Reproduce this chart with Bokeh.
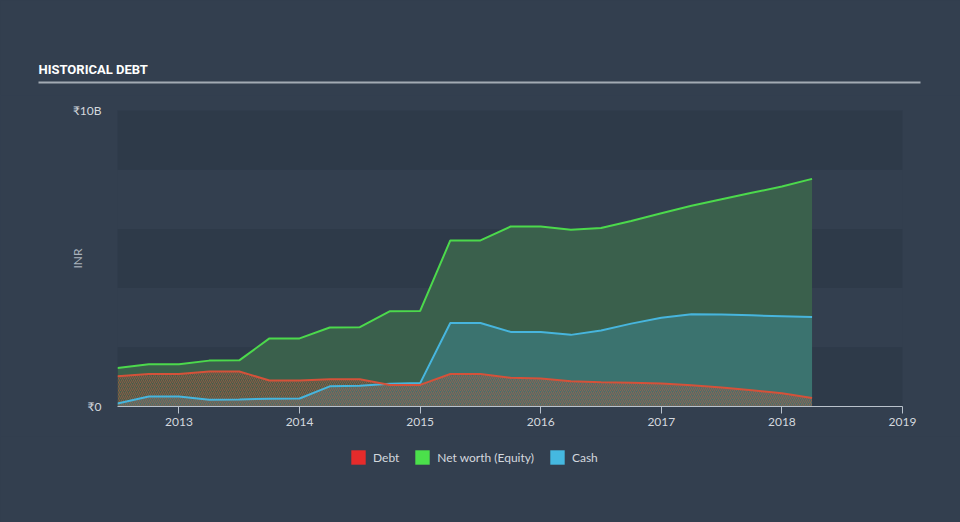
from bokeh.plotting import figure
from bokeh.layouts import column
from bokeh.models import (FixedTicker, Label, BoxAnnotation, Legend, LegendItem,
                          ColumnDataSource, Range1d)
from bokeh.embed import file_html
from bokeh.resources import INLINE

# ---- data (values in billions INR) ----
quarters = [2012.49, 2012.75, 2013.0, 2013.25, 2013.5, 2013.75, 2014.0, 2014.25,
            2014.5, 2014.75, 2015.0, 2015.25, 2015.5, 2015.75, 2016.0, 2016.25,
            2016.5, 2016.75, 2017.0, 2017.25, 2017.5, 2017.75, 2018.0, 2018.25]
debt = [1.02, 1.10, 1.10, 1.18, 1.18, 0.88, 0.88, 0.92, 0.92, 0.73, 0.73, 1.10,
        1.10, 0.97, 0.95, 0.85, 0.82, 0.80, 0.78, 0.72, 0.64, 0.55, 0.45, 0.29]
equity = [1.30, 1.43, 1.43, 1.55, 1.56, 2.30, 2.30, 2.67, 2.68, 3.22, 3.23, 5.61,
          5.61, 6.08, 6.08, 5.97, 6.03, 6.27, 6.53, 6.78, 7.00, 7.22, 7.43, 7.69]
cash = [0.10, 0.34, 0.34, 0.23, 0.24, 0.26, 0.27, 0.68, 0.70, 0.77, 0.79, 2.82,
        2.82, 2.52, 2.52, 2.42, 2.57, 2.80, 3.00, 3.12, 3.11, 3.08, 3.05, 3.02]
series_names = ["Debt", "Net worth (Equity)", "Cash"]
year_ticks = [2013, 2014, 2015, 2016, 2017, 2018, 2019]
y_ticks = [0, 10]
y_tick_labels = {0: "₹0", 10: "₹10B"}
band_ticks = [0, 1e-9, 2, 4, 6, 8, 10]

BG = "#333f4f"
BAND = "#2e3a49"
TXT = "#d3d8de"
FONT = "Lato"
W = 960
NAN = float("nan")


def bare(height):
    f = figure(width=W, height=height, output_backend="svg", toolbar_location=None,
               x_range=Range1d(0, W), y_range=Range1d(height, 0),
               x_axis_type=None, y_axis_type=None, min_border=0,
               frame_align=False)
    f.background_fill_color = BG
    f.border_fill_color = BG
    f.outline_line_color = None
    f.xgrid.visible = False
    f.ygrid.visible = False
    f.styles = {"background-color": BG}
    return f


# ---- header: title and rule ----
head = bare(95)
head.add_layout(Label(x=38, y=69, text="HISTORICAL DEBT", text_color="#ffffff",
                      text_font="Roboto",
                      text_font_style="bold", text_font_size="13px",
                      text_baseline="alphabetic"))
head.add_layout(BoxAnnotation(left=38, right=920, top=81, bottom=83,
                              fill_color="#a3abb4", fill_alpha=1.0, line_color=None))

# ---- main chart ----
src = ColumnDataSource(dict(x=quarters, debt=debt, equity=equity, cash=cash,
                            zero=[0] * len(quarters)))

p = figure(width=W, height=341, output_backend="svg", toolbar_location=None,
           x_range=(2012.49, 2019.0), y_range=(0, 10),
           min_border_left=117, min_border_right=58, min_border_top=15,
           min_border_bottom=30)
p.background_fill_color = BG
p.border_fill_color = BG
p.outline_line_color = None
p.styles = {"background-color": BG}

p.xgrid.visible = False
p.ygrid.ticker = FixedTicker(ticks=band_ticks)
p.ygrid.grid_line_color = None
p.ygrid.band_fill_color = BAND
p.ygrid.band_fill_alpha = 1.0

p.varea(x="x", y1="zero", y2="equity", source=src, fill_color="#3a604c", fill_alpha=1.0)
p.varea(x="x", y1="zero", y2="cash", source=src, fill_color="#3b736f", fill_alpha=1.0)
p.varea(x="x", y1="zero", y2="debt", source=src, fill_color="#d9503a", fill_alpha=0.08,
        hatch_pattern="/", hatch_color="#c8583e", hatch_alpha=0.55,
        hatch_scale=4, hatch_weight=1)

p.line("x", "equity", source=src, line_color="#4cd94c", line_width=2)
p.line("x", "cash", source=src, line_color="#47b5dd", line_width=2)
p.line("x", "debt", source=src, line_color="#d4523a", line_width=2)

xa = p.xaxis[0]
xa.ticker = FixedTicker(ticks=year_ticks)
xa.axis_line_color = "#b9c2cc"
xa.major_tick_line_color = "#b9c2cc"
xa.major_tick_in = 0
xa.major_tick_out = 7
xa.minor_tick_line_color = None
xa.major_label_text_color = TXT
xa.major_label_text_font = FONT
xa.major_label_text_font_size = "12px"
xa.major_label_standoff = 4

ya = p.yaxis[0]
ya.ticker = FixedTicker(ticks=y_ticks)
ya.major_label_overrides = y_tick_labels
ya.axis_line_color = None
ya.major_tick_line_color = None
ya.minor_tick_line_color = None
ya.major_label_text_color = TXT
ya.major_label_text_font = FONT
ya.major_label_text_font_size = "12px"
ya.major_label_standoff = 10
ya.axis_label = "INR"
ya.axis_label_text_color = "#aab3bd"
ya.axis_label_text_font = FONT
ya.axis_label_text_font_size = "12px"
ya.axis_label_text_font_style = "normal"
ya.axis_label_standoff = -15

# ---- footer: legend ----
foot = bare(86)
legend_colors = ["#e62b2b", "#4be04b", "#45b8e0"]
items = []
for name, col in zip(series_names, legend_colors):
    r = foot.varea(x=[NAN, NAN], y1=[NAN, NAN], y2=[NAN, NAN],
                   fill_color=col, fill_alpha=1.0)
    items.append(LegendItem(label=name, renderers=[r]))
leg = Legend(items=items, orientation="horizontal", location=(349, 56),
             background_fill_alpha=0, border_line_color=None,
             padding=0, margin=0, spacing=14, label_standoff=6,
             glyph_width=18, glyph_height=18,
             label_text_color=TXT, label_text_font=FONT, label_text_font_size="12px")
foot.add_layout(leg)

layout = column(head, p, foot, spacing=0)
layout.styles = {"background-color": BG}
open("out.html", "w").write(file_html(layout, INLINE))
